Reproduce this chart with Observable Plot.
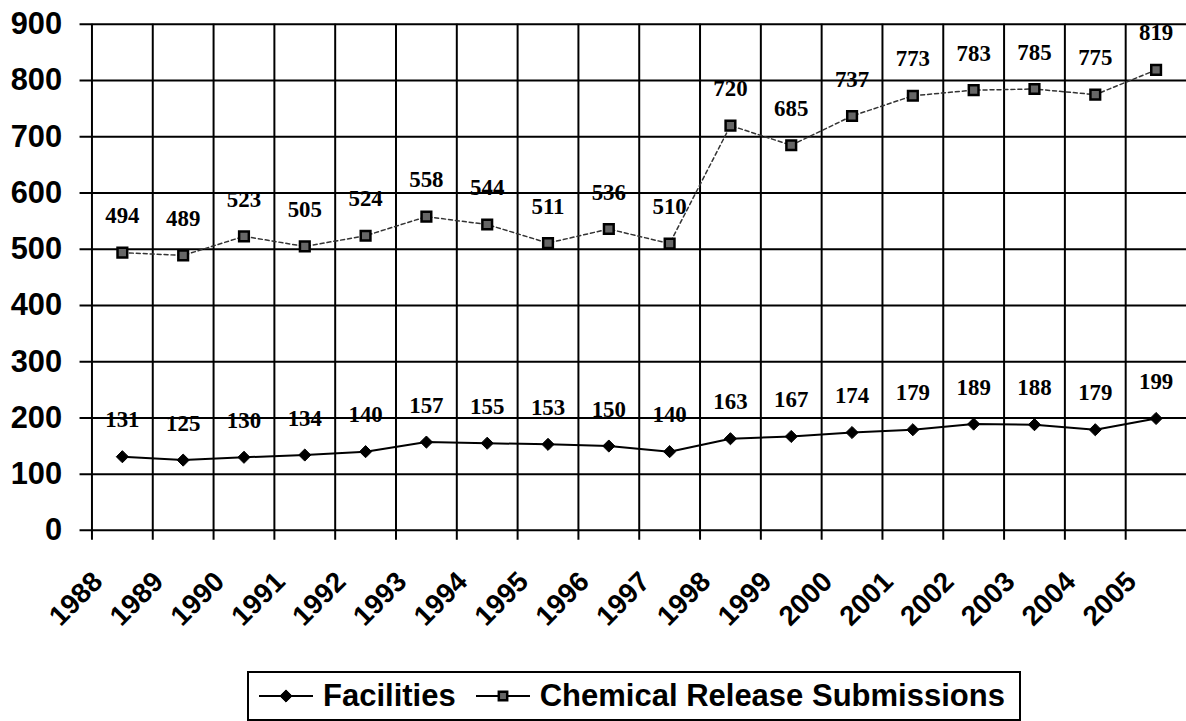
<!DOCTYPE html>
<html>
<head>
<meta charset="utf-8">
<script src="https://cdn.jsdelivr.net/npm/d3@7"></script>
<script src="https://cdn.jsdelivr.net/npm/@observablehq/plot@0.6"></script>
<style>
  html, body { margin: 0; padding: 0; background: #fff; width: 1186px; height: 721px; overflow: hidden; }
  #chart { position: absolute; left: 0; top: 0; }
  #legend {
    position: absolute; left: 247px; top: 671px; height: 50px;
    border: 2px solid #000; background: #fff; box-sizing: border-box;
    display: flex; align-items: center; padding: 0 14px 0 10px;
    font: bold 31px "Liberation Sans", Arial, sans-serif; color: #000; white-space: nowrap;
  }
  #legend svg { display: block; }
</style>
</head>
<body>
<div id="chart"></div>
<div id="legend"></div>
<script>
const years = [1988, 1989, 1990, 1991, 1992, 1993, 1994, 1995, 1996, 1997, 1998, 1999, 2000, 2001, 2002, 2003, 2004, 2005];
const facilities = [131, 125, 130, 134, 140, 157, 155, 153, 150, 140, 163, 167, 174, 179, 189, 188, 179, 199];
const submissions = [494, 489, 523, 505, 524, 558, 544, 511, 536, 510, 720, 685, 737, 773, 783, 785, 775, 819];
const yTicks = [0, 100, 200, 300, 400, 500, 600, 700, 800, 900];
const seriesNames = ["Facilities", "Chemical Release Submissions"];

const fac = years.map((year, i) => ({year, value: facilities[i]}));
const sub = years.map((year, i) => ({year, value: submissions[i]}));
const mid = d => d.year + 0.5;

const chart = Plot.plot({
  width: 1193,
  height: 660,
  marginLeft: 92,
  marginRight: 0,
  marginTop: 24,
  marginBottom: 127,
  style: {fontFamily: "'Liberation Sans', Arial, sans-serif", background: "white", color: "black", overflow: "visible"},
  x: {type: "linear", domain: [years[0], years[years.length - 1] + 1], axis: null},
  y: {domain: [0, 900], axis: null},
  marks: [
    Plot.ruleY(yTicks, {stroke: "black", strokeWidth: 2, insetLeft: -12}),
    Plot.ruleX(years, {x: d => d, stroke: "black", strokeWidth: 2, insetBottom: -10}),
    Plot.text(yTicks, {x: years[0], y: d => d, text: d => String(d), textAnchor: "end", dx: -30,
      fontSize: 31, fontWeight: "bold", fill: "black"}),
    Plot.text(years, {x: d => d, y: 0, text: d => String(d), rotate: -45, textAnchor: "end",
      dx: 6, dy: 47, fontSize: 28, fontWeight: "bold", fill: "black"}),
    Plot.line(sub, {x: mid, y: "value", stroke: "#333", strokeWidth: 1.5, strokeDasharray: "4,3"}),
    Plot.line(fac, {x: mid, y: "value", stroke: "black", strokeWidth: 2}),
    Plot.dot(sub, {x: mid, y: "value", symbol: "square", r: 5.5, fill: "#666", stroke: "black", strokeWidth: 2.5}),
    Plot.dot(fac, {x: mid, y: "value", symbol: "diamond2", r: 5.5, fill: "black", stroke: "black", strokeWidth: 1}),
    Plot.text(sub, {x: mid, y: "value", text: d => String(d.value), dy: -37,
      fontFamily: "'Liberation Serif', 'Times New Roman', serif", fontWeight: "bold", fontSize: 23, fill: "black"}),
    Plot.text(fac, {x: mid, y: "value", text: d => String(d.value), dy: -37,
      fontFamily: "'Liberation Serif', 'Times New Roman', serif", fontWeight: "bold", fontSize: 23, fill: "black"})
  ]
});
document.getElementById("chart").appendChild(chart);

// Legend
const legend = d3.select("#legend");
const symbols = [
  {name: seriesNames[0], type: d3.symbolDiamond2, size: 95, fill: "black", stroke: "black", sw: 1, lw: 2},
  {name: seriesNames[1], type: d3.symbolSquare, size: 70, fill: "#666", stroke: "black", sw: 2.5, lw: 2}
];
symbols.forEach((s, i) => {
  const svg = legend.append("svg").attr("width", 54).attr("height", 20)
    .style("margin-left", i === 0 ? "0px" : "20px").style("margin-right", "10px");
  svg.append("line").attr("x1", 0).attr("x2", 54).attr("y1", 10).attr("y2", 10)
    .attr("stroke", "black").attr("stroke-width", s.lw);
  svg.append("path").attr("d", d3.symbol(s.type, s.size)()).attr("transform", "translate(27,10)")
    .attr("fill", s.fill).attr("stroke", s.stroke).attr("stroke-width", s.sw);
  legend.append("span").text(s.name);
});
</script>
</body>
</html>
